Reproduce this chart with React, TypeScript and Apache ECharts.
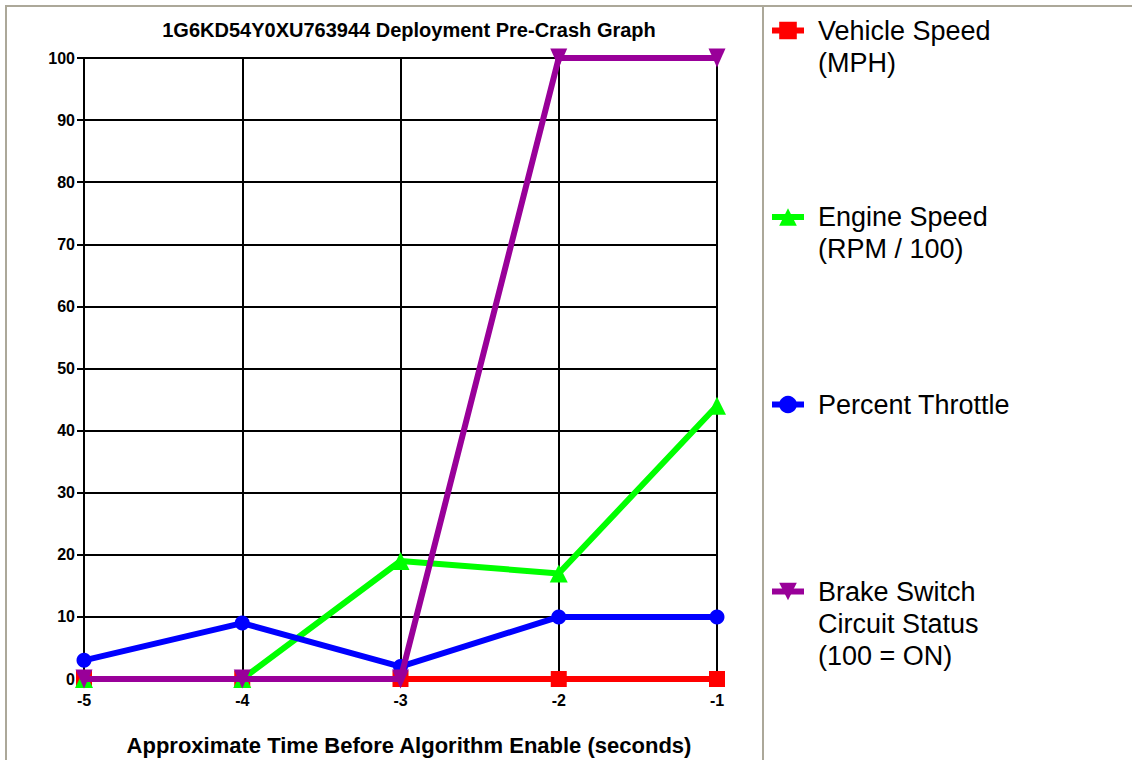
import React, { useEffect, useRef } from "react";
import * as echarts from "echarts";

const FONT = "Arial, 'Liberation Sans', sans-serif";

const titleText = "1G6KD54Y0XU763944 Deployment Pre-Crash Graph";
const xAxisName = "Approximate Time Before Algorithm Enable (seconds)";

const timeValues = [-5, -4, -3, -2, -1];
const vehicleSpeed = [0, 0, 0, 0, 0];
const engineSpeed = [0, 0, 19, 17, 44];
const percentThrottle = [3, 9, 2, 10, 10];
const brakeStatus = [0, 0, 0, 100, 100];

const seriesNames = [
  "Vehicle Speed\n(MPH)",
  "Engine Speed\n(RPM / 100)",
  "Percent Throttle",
  "Brake Switch\nCircuit Status\n(100 = ON)",
];
const seriesColors = ["#ff0000", "#00ff00", "#0000ff", "#990099"];
const seriesValues = [vehicleSpeed, engineSpeed, percentThrottle, brakeStatus];
const seriesSymbols = ["rect", "triangle", "circle", "triangle"];
const seriesSymbolSizes: any[] = [16, 18, 15, [17, 19]];
const seriesSymbolRotate = [0, 0, 0, 180];

// first-line centres of legend entries
const legendLineCentres = [30.5, 217, 404.5, 591.5];
const LINE_H = 32;

export default function App() {
  const ref = useRef<HTMLDivElement>(null);

  useEffect(() => {
    if (!ref.current) return;
    const chart = echarts.init(ref.current, null, { renderer: "svg" });

    const series = seriesNames.map((name, i) => ({
      name,
      type: "line",
      data: timeValues.map((t, j) => [t, seriesValues[i][j]]),
      symbol: seriesSymbols[i],
      symbolSize: seriesSymbolSizes[i],
      symbolRotate: seriesSymbolRotate[i],
      showAllSymbol: true,
      color: seriesColors[i],
      lineStyle: { color: seriesColors[i], width: 6 },
      itemStyle: { color: seriesColors[i] },
      emphasis: { disabled: true },
      z: 2 + i,
    }));

    const legends = seriesNames.map((name, i) => {
      const n = name.split("\n").length;
      return {
        data: [name],
        orient: "vertical",
        left: 769,
        top: legendLineCentres[i] - LINE_H / 2 - (n - 1) * LINE_H,
        padding: 0,
        itemGap: 0,
        itemWidth: 32,
        itemHeight: 22,
        selectedMode: false,
        formatter: (nm: string) => "\n".repeat(n - 1) + nm,
        lineStyle: { width: 6 },
        textStyle: {
          fontFamily: FONT,
          fontSize: 27,
          lineHeight: LINE_H,
          color: "#000",
          padding: [0, 0, 0, 9],
        },
      };
    });

    chart.setOption({
      animation: false,
      backgroundColor: "#fff",
      title: {
        text: titleText,
        left: 409,
        top: 20,
        textAlign: "center",
        padding: 0,
        textStyle: { fontFamily: FONT, fontSize: 20, fontWeight: "bold", color: "#000" },
      },
      legend: legends,
      grid: {
        left: 84,
        right: 415,
        top: 58,
        bottom: 81,
        containLabel: false,
        outerBoundsMode: "none",
      },
      xAxis: {
        type: "value",
        min: -5,
        max: -1,
        interval: 1,
        name: xAxisName,
        nameLocation: "middle",
        nameGap: 55,
        nameTextStyle: {
          fontFamily: FONT,
          fontSize: 22,
          fontWeight: "bold",
          color: "#000",
          padding: [0, 0, 0, 17],
        },
        axisLine: { show: true, lineStyle: { color: "#000", width: 2 } },
        axisTick: { show: false },
        axisLabel: { fontFamily: FONT, fontSize: 16, fontWeight: "bold", color: "#000", margin: 13 },
        splitLine: { show: true, lineStyle: { color: "#000", width: 2 } },
      },
      yAxis: {
        type: "value",
        min: 0,
        max: 100,
        interval: 10,
        axisLine: { show: true, lineStyle: { color: "#000", width: 2 } },
        axisTick: { show: true, length: 7, lineStyle: { color: "#000", width: 2 } },
        axisLabel: { fontFamily: FONT, fontSize: 16, fontWeight: "bold", color: "#000", margin: 9 },
        splitLine: { show: true, lineStyle: { color: "#000", width: 2 } },
      },
      graphic: [
        {
          type: "rect",
          shape: { x: 6, y: 6, width: 1200, height: 900 },
          style: { fill: "none", stroke: "#aca899", lineWidth: 2 },
          silent: true,
          z: 0,
        },
        {
          type: "line",
          shape: { x1: 763, y1: 6, x2: 763, y2: 760 },
          style: { stroke: "#aca899", lineWidth: 2 },
          silent: true,
          z: 0,
        },
      ],
      series,
    });

    return () => chart.dispose();
  }, []);

  return (
    <div
      ref={ref}
      style={{ position: "absolute", left: 0, top: 0, width: 1132, height: 760 }}
    />
  );
}
